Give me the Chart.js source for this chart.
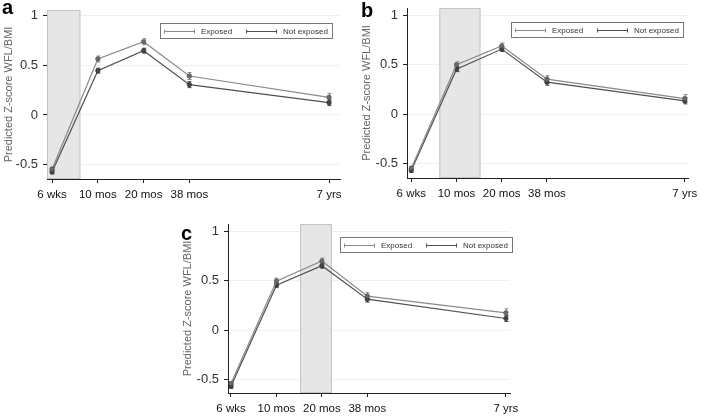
<!DOCTYPE html>
<html>
<head>
<meta charset="utf-8">
<script src="https://cdn.jsdelivr.net/npm/chart.js@4.4.1/dist/chart.umd.min.js"></script>
<style>
  body { margin: 0; background: #fff; }
  #wrap { position: relative; width: 701px; height: 416px; overflow: hidden; }
  canvas { position: absolute; }
  .tag { position: absolute; font: bold 20px "Liberation Sans", Arial, sans-serif; color: #000; line-height: 1; }
</style>
</head>
<body>
<div id="wrap">
  <canvas id="grafico-a" width="350" height="210" style="left:0;top:0"></canvas>
  <canvas id="grafico-b" width="351" height="210" style="left:350px;top:0"></canvas>
  <canvas id="grafico-c" width="360" height="206" style="left:170px;top:210px"></canvas>
  <div class="tag" style="left:2px;top:-3px">a</div>
  <div class="tag" style="left:361px;top:0px">b</div>
  <div class="tag" style="left:181px;top:223px">c</div>
</div>
<script>
// Dados
const idades = ['6 wks', '10 mos', '20 mos', '38 mos', '7 yrs']
const posX = [0, 1, 2, 3, 6.05]
const ticksY = [-0.5, 0, 0.5, 1]

const expostoA = [-0.545, 0.563, 0.737, 0.392, 0.178]
const naoExpostoA = [-0.573, 0.446, 0.647, 0.305, 0.124]
const expostoB = [-0.545, 0.500, 0.690, 0.355, 0.159]
const naoExpostoB = [-0.567, 0.456, 0.659, 0.324, 0.135]
const expostoC = [-0.540, 0.497, 0.700, 0.345, 0.176]
const naoExpostoC = [-0.568, 0.456, 0.652, 0.314, 0.118]

// meia largura do intervalo de confiança
const erroExposto = [0.02, 0.03, 0.03, 0.035, 0.04]
const erroNaoExposto = [0.02, 0.025, 0.025, 0.03, 0.03]

// períodos de exposição (faixa cinza)
const faixaA = [-0.2, 0.62]
const faixaB = [0.62, 1.53]
const faixaC = [1.52, 2.22]

const legendas = ['Exposed', 'Not exposed']
const corExposto = '#8a8a8a'
const corNaoExposto = '#505050'
const fonte = '"Liberation Sans", Arial, sans-serif'

////////////////////////// PLUGINS //////////////////////////////////////

const faixaPlugin = {
    id: 'faixa',
    beforeDatasetsDraw(chart, args, opts) {
        const { ctx, chartArea, scales } = chart
        const x1 = Math.max(scales.x.getPixelForValue(opts.de), chartArea.left)
        const x2 = Math.min(scales.x.getPixelForValue(opts.ate), chartArea.right)
        ctx.save()
        ctx.fillStyle = '#e6e6e6'
        ctx.fillRect(x1, chartArea.top, x2 - x1, chartArea.bottom - chartArea.top)
        ctx.strokeStyle = '#c4c4c4'
        ctx.lineWidth = 1
        ctx.strokeRect(x1 + 0.5, chartArea.top + 0.5, x2 - x1 - 1, chartArea.bottom - chartArea.top - 1)
        ctx.restore()
    }
}

const erroPlugin = {
    id: 'erro',
    beforeDatasetsDraw(chart) {
        const { ctx, scales } = chart
        chart.data.datasets.forEach(ds => {
            ctx.save()
            ctx.strokeStyle = ds.borderColor
            ctx.lineWidth = 1
            ds.data.forEach((p, i) => {
                const x = Math.round(scales.x.getPixelForValue(p.x)) + 0.5
                const y1 = scales.y.getPixelForValue(p.y - ds.erro[i])
                const y2 = scales.y.getPixelForValue(p.y + ds.erro[i])
                ctx.beginPath()
                ctx.moveTo(x, y1); ctx.lineTo(x, y2)
                ctx.moveTo(x - 2, y1); ctx.lineTo(x + 2, y1)
                ctx.moveTo(x - 2, y2); ctx.lineTo(x + 2, y2)
                ctx.stroke()
            })
            ctx.restore()
        })
    }
}

const legendaPlugin = {
    id: 'legendaBox',
    afterDraw(chart, args, opts) {
        const { ctx, chartArea } = chart
        const w = 172, h = 15
        const x = chartArea.right - opts.dir - w
        const y = chartArea.top + opts.topo
        ctx.save()
        ctx.strokeStyle = '#777'
        ctx.lineWidth = 1
        ctx.strokeRect(Math.round(x) + 0.5, Math.round(y) + 0.5, w, h)
        const meio = Math.round(y + h / 2) + 0.5
        const itens = [[x + 4, corExposto, legendas[0]], [x + 86, corNaoExposto, legendas[1]]]
        ctx.font = '8px ' + fonte
        ctx.textBaseline = 'middle'
        itens.forEach(([ix, cor, txt]) => {
            ctx.strokeStyle = cor
            ctx.beginPath()
            ctx.moveTo(ix, meio); ctx.lineTo(ix + 31, meio)
            ctx.moveTo(ix + 0.5, meio - 2); ctx.lineTo(ix + 0.5, meio + 2)
            ctx.moveTo(ix + 30.5, meio - 2); ctx.lineTo(ix + 30.5, meio + 2)
            ctx.stroke()
            ctx.fillStyle = '#333'
            ctx.fillText(txt, ix + 37, meio)
        })
        ctx.restore()
    }
}

////////////////////////// FUNÇÕES //////////////////////////////////////

function pontos(valores) {
    return valores.map((v, i) => ({ x: posX[i], y: v }))
}

function criaGrafico(id, exposto, naoExposto, faixa, p) {
    new Chart(document.getElementById(id), {
        type: 'line',
        data: {
            datasets: [
                {
                    label: legendas[0], data: pontos(exposto), erro: erroExposto,
                    borderColor: corExposto, backgroundColor: '#6a6a6a',
                    borderWidth: 1.2, pointRadius: 2.3, pointBorderWidth: 0.5, pointBorderColor: '#444'
                },
                {
                    label: legendas[1], data: pontos(naoExposto), erro: erroNaoExposto,
                    borderColor: corNaoExposto, backgroundColor: '#444',
                    borderWidth: 1.2, pointRadius: 2.3, pointBorderWidth: 0.5, pointBorderColor: '#222'
                }
            ]
        },
        plugins: [faixaPlugin, erroPlugin, legendaPlugin],
        options: {
            responsive: false,
            animation: false,
            layout: { padding: { top: p.topo, right: p.dir, left: 0, bottom: 0 } },
            plugins: {
                legend: { display: false },
                tooltip: { enabled: false },
                faixa: { de: faixa[0], ate: faixa[1] },
                legendaBox: { dir: p.legDir, topo: p.legTopo }
            },
            scales: {
                x: {
                    type: 'linear', min: p.xMin, max: p.xMax,
                    afterBuildTicks: s => { s.ticks = posX.map(v => ({ value: v })) },
                    afterFit: s => { s.height = p.altX; s.paddingLeft = 0; s.paddingRight = 0 },
                    ticks: {
                        autoSkip: false, maxRotation: 0, padding: 5,
                        color: '#111', font: { family: fonte, size: 11.5 },
                        callback: (v, i) => idades[i]
                    },
                    grid: { drawOnChartArea: false, tickLength: 4, tickColor: '#222' },
                    border: { color: '#222', width: 1 }
                },
                y: {
                    min: p.yMin, max: p.yMax,
                    afterBuildTicks: s => { s.ticks = ticksY.map(v => ({ value: v })) },
                    afterFit: s => { s.width = p.largY; s.paddingTop = 0; s.paddingBottom = 0 },
                    ticks: {
                        padding: 5, color: '#333', font: { family: fonte, size: 13 },
                        callback: v => String(v)
                    },
                    grid: { color: '#f0f0f0', tickLength: 4, tickColor: '#222' },
                    border: { color: '#222', width: 1 },
                    title: {
                        display: true, text: 'Predicted Z-score WFL/BMI',
                        color: '#666', font: { family: fonte, size: 11 },
                        padding: { top: p.tituloPad, bottom: 0 }
                    }
                }
            }
        }
    })
}

criaGrafico('grafico-a', expostoA, naoExpostoA, faixaA, {
    topo: 10, dir: 10, largY: 47, altX: 31, xMin: -0.11, xMax: 6.29,
    yMin: -0.644, yMax: 1.056, tituloPad: 2, legDir: 8, legTopo: 13
})
criaGrafico('grafico-b', expostoB, naoExpostoB, faixaB, {
    topo: 8, dir: 13, largY: 57, altX: 32, xMin: -0.095, xMax: 6.12,
    yMin: -0.644, yMax: 1.074, tituloPad: 10, legDir: 5, legTopo: 14
})
criaGrafico('grafico-c', expostoC, naoExpostoC, faixaC, {
    topo: 14, dir: 20, largY: 58, altX: 23, xMin: -0.066, xMax: 6.14,
    yMin: -0.636, yMax: 1.075, tituloPad: 11, legDir: -2, legTopo: 13
})
</script>
</body>
</html>
